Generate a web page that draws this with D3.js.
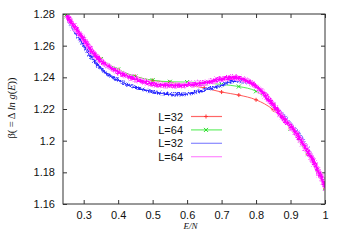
<!DOCTYPE html>
<html>
<head>
<meta charset="utf-8">
<script src="https://cdn.jsdelivr.net/npm/d3@7"></script>
<style>
  body { margin: 0; background: #fff; }
  text { font-family: "Liberation Sans", Arial, sans-serif; }
</style>
</head>
<body>
<svg id="chart" width="346" height="242"></svg>
<script>
// chart data
var xTicks = [0.3, 0.4, 0.5, 0.6, 0.7, 0.8, 0.9, 1];
var yTicks = [1.16, 1.18, 1.2, 1.22, 1.24, 1.26, 1.28];
var legendLabels = ["L=32", "L=64", "L=32", "L=64"];

// L=32 with points
var redX = [0.24, 0.25, 0.3, 0.35, 0.4, 0.45, 0.5, 0.55, 0.6, 0.65, 0.7, 0.75, 0.8, 0.85, 0.9, 0.95, 1.0];
var redY = [1.2825, 1.2785, 1.264, 1.2515, 1.2448, 1.2405, 1.238, 1.2368, 1.2352, 1.2333, 1.2307, 1.2288, 1.2258, 1.2195, 1.2075, 1.1915, 1.17];

// L=64 with points
var greenX = [0.24, 0.25, 0.3, 0.35, 0.4, 0.45, 0.5, 0.55, 0.6, 0.65, 0.7, 0.75, 0.8, 0.85, 0.9, 0.95, 1.0];
var greenY = [1.2825, 1.2785, 1.264, 1.2515, 1.245, 1.2405, 1.2382, 1.2372, 1.237, 1.2365, 1.2355, 1.2342, 1.2312, 1.2225, 1.2075, 1.1915, 1.17];

// L=32 noisy estimate
var blueX = [0.245, 0.26, 0.279, 0.3, 0.327, 0.35, 0.376, 0.4, 0.424, 0.45, 0.473, 0.5, 0.53, 0.56, 0.588, 0.61, 0.637, 0.66, 0.686, 0.71, 0.733, 0.76, 0.783, 0.81, 0.84, 0.87, 0.9, 0.918, 0.94, 0.96, 0.98, 1.0];
var blueY = [1.28, 1.2735, 1.2667, 1.2595, 1.251, 1.2455, 1.2415, 1.2385, 1.2362, 1.2343, 1.233, 1.2315, 1.2305, 1.23, 1.2303, 1.231, 1.2324, 1.2337, 1.2351, 1.2372, 1.2387, 1.2382, 1.2366, 1.233, 1.2258, 1.218, 1.2105, 1.206, 1.198, 1.19, 1.181, 1.171];

// L=64 noisy estimate
var magX = [0.248, 0.26, 0.279, 0.3, 0.327, 0.35, 0.376, 0.4, 0.424, 0.45, 0.473, 0.5, 0.53, 0.56, 0.588, 0.61, 0.637, 0.66, 0.686, 0.71, 0.733, 0.76, 0.783, 0.8, 0.82, 0.85, 0.87, 0.9, 0.918, 0.94, 0.957, 0.98, 1.0];
var magY = [1.28, 1.2755, 1.2699, 1.2635, 1.2552, 1.2505, 1.2467, 1.2438, 1.2415, 1.2395, 1.2379, 1.2365, 1.236, 1.2358, 1.236, 1.2364, 1.237, 1.238, 1.2394, 1.2404, 1.2408, 1.2395, 1.2372, 1.2345, 1.23, 1.2222, 1.2162, 1.209, 1.2036, 1.196, 1.1899, 1.18, 1.17];

var margin = { top: 14, right: 21, bottom: 38, left: 63 };
var width = 346 - margin.left - margin.right,
    height = 242 - margin.top - margin.bottom;

var svg = d3.select("#chart");

var defs = svg.append("defs");
defs.append("clipPath").attr("id", "clip")
    .append("rect").attr("width", width).attr("height", height);
var jit = defs.append("filter").attr("id", "jitter")
    .attr("x", "-5%").attr("y", "-5%").attr("width", "110%").attr("height", "110%");
jit.append("feTurbulence").attr("type", "turbulence")
    .attr("baseFrequency", "0.9 0.5").attr("numOctaves", 1).attr("seed", 4).attr("result", "t");
jit.append("feDisplacementMap").attr("in", "SourceGraphic").attr("in2", "t")
    .attr("scale", 4).attr("xChannelSelector", "R").attr("yChannelSelector", "G");

var g = svg.append("g")
    .attr("transform", "translate(" + margin.left + "," + margin.top + ")");

var x = d3.scaleLinear().domain([0.24, 1]).range([0, width]);
var y = d3.scaleLinear().domain([1.16, 1.28]).range([height, 0]);

var axisColor = "#333";

// ticks (inward, mirrored) like gnuplot
function styleAxis(sel) {
    sel.select(".domain").remove();
    sel.selectAll(".tick line").attr("stroke", axisColor);
    sel.selectAll(".tick text").attr("fill", "#111").style("font-size", "11px");
}

g.append("g")
    .attr("transform", "translate(0," + height + ")")
    .call(d3.axisBottom(x).tickValues(xTicks).tickSize(-4).tickPadding(7).tickFormat(d3.format("")))
    .call(styleAxis);
g.append("g")
    .call(d3.axisTop(x).tickValues(xTicks).tickSize(-4).tickFormat(""))
    .call(styleAxis);
g.append("g")
    .call(d3.axisLeft(y).tickValues(yTicks).tickSize(-4).tickPadding(8).tickFormat(d3.format("")))
    .call(styleAxis);
g.append("g")
    .attr("transform", "translate(" + width + ",0)")
    .call(d3.axisRight(y).tickValues(yTicks).tickSize(-4).tickFormat(""))
    .call(styleAxis);

var plot = g.append("g").attr("clip-path", "url(#clip)");

function lineOf(xs, ys) {
    return d3.line().x(function(d, i) { return x(xs[i]); }).y(function(d, i) { return y(ys[i]); })
        .curve(d3.curveMonotoneX)(xs);
}

// red and green with markers
plot.append("path").attr("d", lineOf(redX, redY))
    .attr("fill", "none").attr("stroke", "#ff5a5a").attr("stroke-width", 1);
plot.append("path").attr("d", lineOf(greenX, greenY))
    .attr("fill", "none").attr("stroke", "#55ee55").attr("stroke-width", 1);

redX.forEach(function(v, i) {
    var cx = x(v), cy = y(redY[i]);
    plot.append("path").attr("d", "M" + (cx - 2) + "," + cy + "h4M" + cx + "," + (cy - 2) + "v4")
        .attr("stroke", "#ff3333").attr("stroke-width", 1);
});
greenX.forEach(function(v, i) {
    var cx = x(v), cy = y(greenY[i]);
    plot.append("path").attr("d", "M" + (cx - 2) + "," + (cy - 2) + "l4,4M" + (cx - 2) + "," + (cy + 2) + "l4,-4")
        .attr("stroke", "#22dd22").attr("stroke-width", 1);
});

// noisy bands
plot.append("path").attr("d", lineOf(blueX, blueY))
    .attr("fill", "none").attr("stroke", "#8080ff").attr("stroke-width", 3).attr("filter", "url(#jitter)");
plot.append("path").attr("d", lineOf(blueX, blueY))
    .attr("fill", "none").attr("stroke", "#2222ff").attr("stroke-width", 1.2).attr("filter", "url(#jitter)");
plot.append("path").attr("d", lineOf(magX, magY))
    .attr("fill", "none").attr("stroke", "#ff88ff").attr("stroke-width", 5.5).attr("filter", "url(#jitter)");
plot.append("path").attr("d", lineOf(magX, magY))
    .attr("fill", "none").attr("stroke", "#ff00ff").attr("stroke-width", 3).attr("filter", "url(#jitter)");

// border box
g.append("rect").attr("width", width).attr("height", height)
    .attr("fill", "none").attr("stroke", axisColor).attr("stroke-width", 1);

// legend
var legColors = ["#ff6666", "#66ee66", "#8888ff", "#ff88ff"];
var leg = g.selectAll(".leg").data(legendLabels).enter().append("g")
    .attr("transform", function(d, i) { return "translate(0," + (116.5 + i * 13.4 - margin.top) + ")"; });
leg.append("text").attr("x", 183 - margin.left).attr("y", 4)
    .attr("text-anchor", "end").style("font-size", "11px").attr("fill", "#111")
    .text(function(d) { return d; });
leg.append("line").attr("x1", 191 - margin.left).attr("x2", 222 - margin.left)
    .attr("stroke", function(d, i) { return legColors[i]; }).attr("stroke-width", 1.2);
var lx = 206 - margin.left;
leg.filter(function(d, i) { return i === 0; }).append("path")
    .attr("d", "M" + (lx - 2) + ",0h4M" + lx + ",-2v4").attr("stroke", "#ff3333");
leg.filter(function(d, i) { return i === 1; }).append("path")
    .attr("d", "M" + (lx - 2) + ",-2l4,4M" + (lx - 2) + ",2l4,-4").attr("stroke", "#22dd22");

// axis titles
svg.append("text")
    .attr("x", margin.left + x(0.61)).attr("y", 229)
    .attr("text-anchor", "middle")
    .style("font-family", "'Liberation Serif', serif").style("font-style", "italic").style("font-size", "9px")
    .attr("fill", "#111")
    .text("E/N");

var yl = svg.append("text")
    .attr("transform", "translate(15,108) rotate(-90)")
    .attr("text-anchor", "middle")
    .style("font-family", "'Liberation Serif', serif").style("font-size", "10.5px")
    .attr("fill", "#111");
yl.append("tspan").text("β( = Δ ");
yl.append("tspan").style("font-style", "italic").text("ln g");
yl.append("tspan").text("(");
yl.append("tspan").style("font-style", "italic").text("E");
yl.append("tspan").text("))");
</script>
</body>
</html>
